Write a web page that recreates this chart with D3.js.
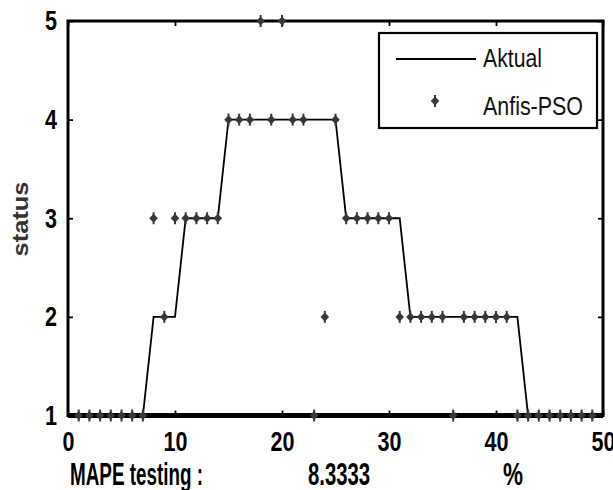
<!DOCTYPE html>
<html>
<head>
  <meta charset="utf-8" />
  <title>Aktual vs Anfis-PSO</title>
  <style type="text/css">
    body {
      margin: 0;
      background: #fff;
      font-family: 'Liberation Sans', Arial, sans-serif;
    }
  </style>
</head>
<body>
  <div id="graph"></div>

  <script src="https://cdn.jsdelivr.net/npm/d3@7/dist/d3.min.js"></script>
  <script>
// data points (test sample 1..49)
var sampleNo = [1,2,3,4,5,6,7,8,9,10,11,12,13,14,15,16,17,18,19,20,21,22,23,24,25,
                26,27,28,29,30,31,32,33,34,35,36,37,38,39,40,41,42,43,44,45,46,47,48,49];
var aktual   = [1,1,1,1,1,1,1,2,2,2,3,3,3,3,4,4,4,4,4,4,4,4,4,4,4,
                3,3,3,3,3,3,2,2,2,2,2,2,2,2,2,2,2,1,1,1,1,1,1,1];
var anfisPso = [1,1,1,1,1,1,1,3,2,3,3,3,3,3,4,4,4,5,4,5,4,4,1,2,4,
                3,3,3,3,3,2,2,2,2,2,1,2,2,2,2,2,1,1,1,1,1,1,1,1];
var xTicks = [0, 10, 20, 30, 40, 50];
var yTicks = [1, 2, 3, 4, 5];
var seriesNames = ["Aktual", "Anfis-PSO"];
var mapeLabel = "MAPE testing :";
var mapeValue = "8.3333";
var mapeUnit = "%";

var W = 613, H = 490;
// plot box (note: "top" is reserved on window, so use pTop etc.)
var pLeft = 68, pRight = 603, pTop = 21, pBottom = 415.5;

var x = d3.scaleLinear().domain([0, 50]).range([pLeft, pRight]);
var y = d3.scaleLinear().domain([1, 5]).range([pBottom, pTop]);
var fmt = d3.format("d");

var svg = d3.select("#graph").append("svg")
    .attr("width", W)
    .attr("height", H);

// tick marks point inwards on all four sides, like a matlab box
var tickLen = 5;
function styleAxis(g) {
  g.select(".domain").remove();
  g.selectAll(".tick line").attr("stroke", "#000").attr("stroke-width", 1.8);
  g.selectAll("text")
    .attr("fill", "#000")
    .attr("font-family", "'Liberation Sans', Arial, sans-serif")
    .attr("font-size", 28)
    .attr("font-weight", "bold")
    .attr("textLength", function(d) { return fmt(d).length * 12; })
    .attr("lengthAdjust", "spacingAndGlyphs");
}

svg.append("g")
    .attr("transform", "translate(0," + pBottom + ")")
    .call(d3.axisBottom(x).tickValues(xTicks).tickFormat(fmt).tickSize(-tickLen).tickPadding(16))
    .call(styleAxis);

svg.append("g")
    .attr("transform", "translate(0," + pTop + ")")
    .call(d3.axisTop(x).tickValues(xTicks).tickSize(-tickLen).tickFormat(""))
    .call(styleAxis);

svg.append("g")
    .attr("transform", "translate(" + pLeft + ",0)")
    .call(d3.axisLeft(y).tickValues(yTicks).tickFormat(fmt).tickSize(-tickLen).tickPadding(11))
    .call(styleAxis);

svg.append("g")
    .attr("transform", "translate(" + pRight + ",0)")
    .call(d3.axisRight(y).tickValues(yTicks).tickSize(-tickLen).tickFormat(""))
    .call(styleAxis);

// box
svg.append("rect")
    .attr("x", pLeft).attr("y", pTop)
    .attr("width", pRight - pLeft).attr("height", pBottom - pTop)
    .attr("fill", "none")
    .attr("stroke", "#000")
    .attr("stroke-width", 3);
// bottom edge looks heavier in the original
svg.append("line")
    .attr("x1", pLeft).attr("x2", pRight)
    .attr("y1", pBottom).attr("y2", pBottom)
    .attr("stroke", "#000")
    .attr("stroke-width", 5);

// actual line
var line = d3.line()
    .x(function(d, i) { return x(sampleNo[i]); })
    .y(function(d) { return y(d); });

svg.append("path")
    .datum(aktual)
    .attr("d", line)
    .attr("fill", "none")
    .attr("stroke", "#000")
    .attr("stroke-width", 1.8);

// predicted markers
var markerColor = "#383838";
function drawMarker(sel) {
  sel.append("path")
    .attr("d", "M0,-4.5L4.3,0L0,4.5L-4.3,0Z")
    .attr("fill", markerColor);
  sel.append("line")
    .attr("x1", 0).attr("x2", 0)
    .attr("y1", -6).attr("y2", 6)
    .attr("stroke", markerColor)
    .attr("stroke-width", 2);
}

svg.append("g").selectAll("g")
    .data(anfisPso)
  .enter().append("g")
    .attr("transform", function(d, i) { return "translate(" + x(sampleNo[i]) + "," + y(d) + ")"; })
    .call(drawMarker);

// legend
var lg = svg.append("g");
lg.append("rect")
    .attr("x", 379).attr("y", 33)
    .attr("width", 218).attr("height", 95)
    .attr("fill", "#fff")
    .attr("stroke", "#000")
    .attr("stroke-width", 2.2);
lg.append("line")
    .attr("x1", 396).attr("x2", 476)
    .attr("y1", 59).attr("y2", 59)
    .attr("stroke", "#000")
    .attr("stroke-width", 1.8);
lg.append("g")
    .attr("transform", "translate(435,101)")
    .call(drawMarker);
lg.selectAll("text")
    .data(seriesNames)
  .enter().append("text")
    .attr("x", 483)
    .attr("y", function(d, i) { return i === 0 ? 67 : 115; })
    .attr("font-size", 25)
    .attr("textLength", function(d, i) { return i === 0 ? 59 : 100; })
    .attr("lengthAdjust", "spacingAndGlyphs")
    .attr("fill", "#111")
    .text(function(d) { return d; });

// y label
svg.append("text")
    .attr("transform", "translate(28,219) rotate(-90)")
    .attr("text-anchor", "middle")
    .attr("font-size", 22)
    .attr("font-weight", "bold")
    .attr("fill", "#333")
    .attr("textLength", 75)
    .attr("lengthAdjust", "spacingAndGlyphs")
    .text("status");

// MAPE line under the axis
var mape = [
  {t: mapeLabel, x: 70, len: 133},
  {t: mapeValue, x: 308, len: 62},
  {t: mapeUnit, x: 503, len: 20}
];
svg.append("g").selectAll("text")
    .data(mape)
  .enter().append("text")
    .attr("x", function(d) { return d.x; })
    .attr("y", 485)
    .attr("font-size", 32)
    .attr("font-weight", "bold")
    .attr("fill", "#000")
    .attr("textLength", function(d) { return d.len; })
    .attr("lengthAdjust", "spacingAndGlyphs")
    .text(function(d) { return d.t; });
</script>
</body>
</html>
